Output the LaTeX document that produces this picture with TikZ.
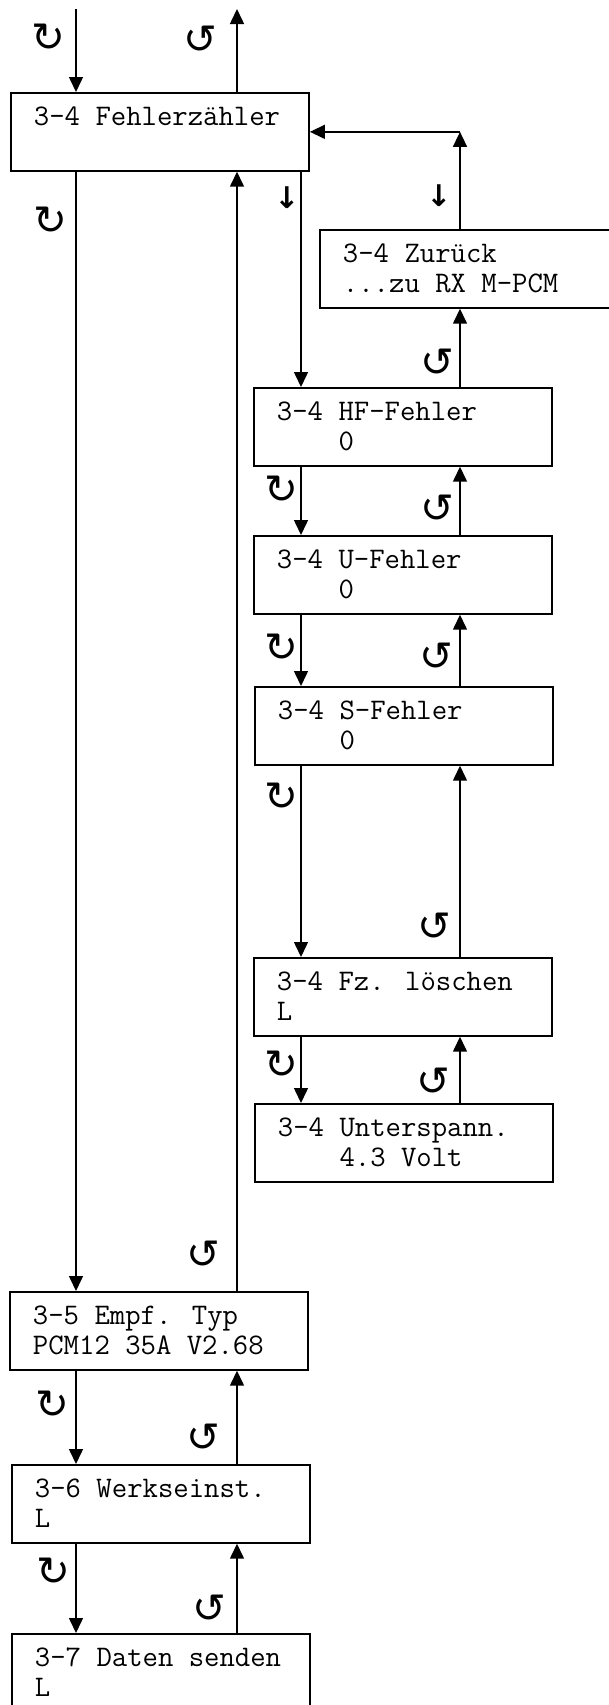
\documentclass[tikz,border=0pt]{standalone}
\usepackage{fontspec}
\newfontfamily\rotfont{DejaVu Sans}
\usetikzlibrary{arrows.meta}

\newcommand{\zeilen}[2]{\makebox[50.4mm][l]{\rule{0pt}{15.4pt}#1}\\\makebox[50.4mm][l]{\strut#2}}

\begin{document}
\begin{tikzpicture}[x=0.2mm, y=-0.2mm,
    lcd/.style={draw, line width=1.1pt, anchor=north west,
      minimum width=59.6mm, minimum height=15.4mm,
      inner xsep=4.6mm, align=left,
      font=\ttfamily\fontsize{17}{17.07}\selectfont},
    arr/.style={-{Triangle[width=2.8mm,length=3mm]}, line width=0.85pt},
    rot/.style={inner sep=0pt, font=\rotfont\fontsize{23}{23}\selectfont},
    tip/.style={inner sep=0pt, font=\rotfont\bfseries\fontsize{17}{17}\selectfont}]
    \clip (0,0) rectangle (609,1705);

    % menu boxes
    \node[lcd] (fz)  at (10,92)    {\zeilen{3-4 Fehlerzähler}{}};
    \node[lcd] (zr)  at (319,229)  {\zeilen{3-4 Zurück}{...zu RX M-PCM}};
    \node[lcd] (hf)  at (253,387)  {\zeilen{3-4 HF-Fehler}{\phantom{0000}0}};
    \node[lcd] (uf)  at (253,535)  {\zeilen{3-4 U-Fehler}{\phantom{0000}0}};
    \node[lcd] (sf)  at (254,686)  {\zeilen{3-4 S-Fehler}{\phantom{0000}0}};
    \node[lcd] (fzl) at (253,957)  {\zeilen{3-4 Fz. löschen}{L}};
    \node[lcd] (usp) at (254,1103) {\zeilen{3-4 Unterspann.}{\phantom{0000}4.3 Volt}};
    \node[lcd] (e35) at (9,1291)   {\zeilen{3-5 Empf. Typ}{PCM12 35A V2.68}};
    \node[lcd] (e36) at (11,1464)  {\zeilen{3-6 Werkseinst.}{L}};
    \node[lcd] (e37) at (11,1633)  {\zeilen{3-7 Daten senden}{L}};

    % columns of the connectors
    \coordinate (in)  at (76,9);
    \coordinate (out) at (237,9);
    \coordinate (ab)  at (301,0);
    \coordinate (auf) at (460,0);

    \draw[arr] (in) -- (in |- fz.north);
    \draw[arr] (out |- fz.north) -- (out);
    \draw[arr] (fz.south -| in) -- (e35.north -| in);
    \draw[arr] (e35.north -| out) -- (fz.south -| out);
    \draw[arr] (fz.south -| ab) -- (hf.north -| ab);
    \draw[arr] (zr.north -| auf) -- (fz.east -| auf);
    \draw[arr] (fz.east -| auf) -- (fz.east);
    \draw[arr] (hf.north -| auf) -- (zr.south -| auf);
    \draw[arr] (hf.south -| ab) -- (uf.north -| ab);
    \draw[arr] (uf.north -| auf) -- (hf.south -| auf);
    \draw[arr] (uf.south -| ab) -- (sf.north -| ab);
    \draw[arr] (sf.north -| auf) -- (uf.south -| auf);
    \draw[arr] (sf.south -| ab) -- (fzl.north -| ab);
    \draw[arr] (fzl.north -| auf) -- (sf.south -| auf);
    \draw[arr] (fzl.south -| ab) -- (usp.north -| ab);
    \draw[arr] (usp.north -| auf) -- (fzl.south -| auf);
    \draw[arr] (e35.south -| in) -- (e36.north -| in);
    \draw[arr] (e36.north -| out) -- (e35.south -| out);
    \draw[arr] (e36.south -| in) -- (e37.north -| in);
    \draw[arr] (e37.north -| out) -- (e36.south -| out);

    % turn symbols
    \foreach \p [count=\i] in {(48,38),(50,221),(281,490),(281,648),(281,797),(281,1065),(52,1405),(53,1572)}
        \node[rot] (cw\i) at \p {↻};
    \foreach \p [count=\i] in {(200,40),(437,363),(437,509),(436,657),(434,927),(433,1082),(203,1255),(203,1438),(209,1609)}
        \node[rot] (ccw\i) at \p {↺};
    \node[tip] (dn1) at (287,198) {↓};
    \node[tip] (dn2) at (439,196) {↓};
\end{tikzpicture}
\end{document}
